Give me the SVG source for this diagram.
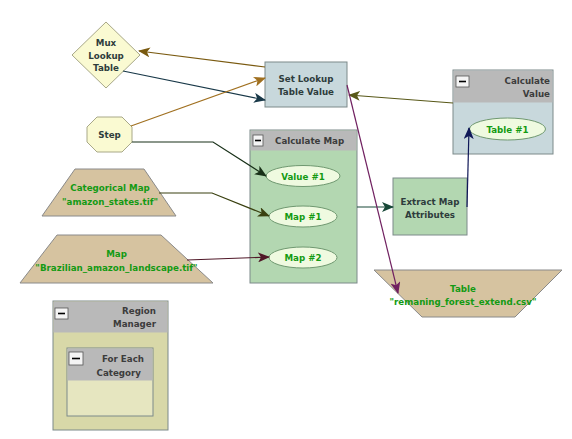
<svg xmlns="http://www.w3.org/2000/svg" width="572" height="439" viewBox="0 0 572 439">
<style>
text{font-family:"DejaVu Sans",Verdana,sans-serif;font-weight:bold;font-size:8.7px}
.n{fill:#2e3c3c}
.g{fill:#139a13}
.h{fill:#3c3c3c}
.box{stroke:#7d8a8a;stroke-width:1}
.hdr{fill:#b9b9b9;stroke:none}
.ell{fill:#effae0;stroke:#6f9870;stroke-width:1}
.trap{fill:#d6c3a0;stroke:#8a8a8a;stroke-width:1}
.btn{fill:#f4f4f4;stroke:#555;stroke-width:0.8}
.line{fill:none;stroke-width:1.2}
</style>
<defs>
<marker id="a1" viewBox="0 0 12 10" refX="11" refY="5" markerWidth="12" markerHeight="10" markerUnits="userSpaceOnUse" orient="auto"><path d="M0,0 L12,5 L0,10 L3,5 z" fill="#7a5a10"/></marker>
<marker id="a2" viewBox="0 0 12 10" refX="11" refY="5" markerWidth="12" markerHeight="10" markerUnits="userSpaceOnUse" orient="auto"><path d="M0,0 L12,5 L0,10 L3,5 z" fill="#183848"/></marker>
<marker id="a3" viewBox="0 0 12 10" refX="11" refY="5" markerWidth="12" markerHeight="10" markerUnits="userSpaceOnUse" orient="auto"><path d="M0,0 L12,5 L0,10 L3,5 z" fill="#a07020"/></marker>
<marker id="a4" viewBox="0 0 12 10" refX="11" refY="5" markerWidth="12" markerHeight="10" markerUnits="userSpaceOnUse" orient="auto"><path d="M0,0 L12,5 L0,10 L3,5 z" fill="#183018"/></marker>
<marker id="a5" viewBox="0 0 12 10" refX="11" refY="5" markerWidth="12" markerHeight="10" markerUnits="userSpaceOnUse" orient="auto"><path d="M0,0 L12,5 L0,10 L3,5 z" fill="#3a4010"/></marker>
<marker id="a6" viewBox="0 0 12 10" refX="11" refY="5" markerWidth="12" markerHeight="10" markerUnits="userSpaceOnUse" orient="auto"><path d="M0,0 L12,5 L0,10 L3,5 z" fill="#501828"/></marker>
<marker id="a7" viewBox="0 0 12 10" refX="11" refY="5" markerWidth="12" markerHeight="10" markerUnits="userSpaceOnUse" orient="auto"><path d="M0,0 L12,5 L0,10 L3,5 z" fill="#184838"/></marker>
<marker id="a8" viewBox="0 0 12 10" refX="11" refY="5" markerWidth="12" markerHeight="10" markerUnits="userSpaceOnUse" orient="auto"><path d="M0,0 L12,5 L0,10 L3,5 z" fill="#101858"/></marker>
<marker id="a9" viewBox="0 0 12 10" refX="11" refY="5" markerWidth="12" markerHeight="10" markerUnits="userSpaceOnUse" orient="auto"><path d="M0,0 L12,5 L0,10 L3,5 z" fill="#585818"/></marker>
<marker id="a10" viewBox="0 0 12 10" refX="11" refY="5" markerWidth="12" markerHeight="10" markerUnits="userSpaceOnUse" orient="auto"><path d="M0,0 L12,5 L0,10 L3,5 z" fill="#702060"/></marker>
</defs>
<rect width="572" height="439" fill="#ffffff"/>

<g id="region-manager">
<rect x="53" y="301" width="115" height="129" fill="#d8d8a8" class="box"/>
<rect x="53.5" y="301.5" width="114" height="31" class="hdr"/>
<rect x="55" y="308" width="13" height="11" class="btn"/><line x1="58" y1="313.5" x2="65" y2="313.5" stroke="#000" stroke-width="1.6"/>
<text x="156" y="314" text-anchor="end" class="h">Region</text>
<text x="156" y="327" text-anchor="end" class="h">Manager</text>
</g>
<g id="for-each-category">
<rect x="67" y="348" width="86" height="68" fill="#e6e6c0" class="box"/>
<rect x="67.5" y="348.5" width="85" height="32" class="hdr"/>
<rect x="69" y="352" width="14" height="13" class="btn"/><line x1="72" y1="358.5" x2="80" y2="358.5" stroke="#000" stroke-width="1.6"/>
<text x="144" y="362" text-anchor="end" class="h">For Each</text>
<text x="141" y="376" text-anchor="end" class="h">Category</text>
</g>

<g id="calculate-map">
<rect x="250" y="130" width="107" height="153" fill="#b3d7b1" class="box"/>
<rect x="250.5" y="130.5" width="106" height="20" class="hdr"/>
<rect x="253" y="135" width="10" height="11" class="btn"/><line x1="255" y1="140.5" x2="261" y2="140.5" stroke="#000" stroke-width="1.6"/>
<text x="275" y="144" class="h">Calculate Map</text>
</g>
<g id="value1"><ellipse cx="303" cy="176" rx="37" ry="10.5" class="ell"/><text x="303" y="179.5" text-anchor="middle" class="g">Value #1</text></g>
<g id="map1"><ellipse cx="303" cy="216.5" rx="34" ry="10.5" class="ell"/><text x="303" y="220" text-anchor="middle" class="g">Map #1</text></g>
<g id="map2"><ellipse cx="303" cy="257.5" rx="34" ry="10.5" class="ell"/><text x="303" y="261" text-anchor="middle" class="g">Map #2</text></g>

<g id="calculate-value">
<rect x="453" y="70" width="100" height="84" fill="#c8d8dc" class="box"/>
<rect x="453.5" y="70.5" width="99" height="32" class="hdr"/>
<rect x="456" y="76" width="13" height="11" class="btn"/><line x1="459" y1="81.5" x2="466" y2="81.5" stroke="#000" stroke-width="1.6"/>
<text x="550" y="84" text-anchor="end" class="h">Calculate</text>
<text x="550" y="97" text-anchor="end" class="h">Value</text>
</g>
<g id="table1"><ellipse cx="507.5" cy="129" rx="38" ry="11" class="ell"/><text x="507.5" y="132.5" text-anchor="middle" class="g">Table #1</text></g>

<g id="mux-lookup-table">
<polygon points="106,22 140,55 106,88 72,55" fill="#fafad2" stroke="#a8a888"/>
<text x="106" y="46" text-anchor="middle" class="n">Mux</text>
<text x="106" y="58.5" text-anchor="middle" class="n">Lookup</text>
<text x="106" y="71" text-anchor="middle" class="n">Table</text>
</g>
<g id="set-lookup-table-value">
<rect x="265" y="62" width="82" height="45" fill="#c8d8dc" class="box"/>
<text x="306" y="82" text-anchor="middle" class="n">Set Lookup</text>
<text x="306" y="94.5" text-anchor="middle" class="n">Table Value</text>
</g>
<g id="step">
<polygon points="97,117 122,117 132,127 132,142 122,152 97,152 87,142 87,127" fill="#fafad2" stroke="#a8a888"/>
<text x="109.5" y="138" text-anchor="middle" class="n">Step</text>
</g>
<g id="extract-map-attributes">
<rect x="393" y="178" width="74" height="57" fill="#b3d7b1" class="box"/>
<text x="430" y="205" text-anchor="middle" class="n">Extract Map</text>
<text x="430" y="217.5" text-anchor="middle" class="n">Attributes</text>
</g>
<g id="categorical-map">
<polygon points="75,169 144,169 176,216 42,216" class="trap"/>
<text x="110" y="191" text-anchor="middle" class="g">Categorical Map</text>
<text x="110" y="205" text-anchor="middle" class="g">"amazon_states.tif"</text>
</g>
<g id="map-brazilian">
<polygon points="57,235 161,235 213,283 20,283" class="trap"/>
<text x="116.5" y="257" text-anchor="middle" class="g">Map</text>
<text x="116.5" y="271" text-anchor="middle" class="g">"Brazilian_amazon_landscape.tif"</text>
</g>
<g id="table-csv">
<polygon points="374,270 562,270 515,317 422,317" class="trap"/>
<text x="463" y="292" text-anchor="middle" class="g">Table</text>
<text x="463" y="305" text-anchor="middle" class="g">"remaning_forest_extend.csv"</text>
</g>

<g id="connectors">
<line x1="265" y1="67" x2="139" y2="51" class="line" stroke="#7a5a10" marker-end="url(#a1)"/>
<line x1="123" y1="71" x2="265" y2="100" class="line" stroke="#183848" marker-end="url(#a2)"/>
<line x1="131" y1="126" x2="265" y2="78" class="line" stroke="#a07020" marker-end="url(#a3)"/>
<polyline points="132,142 213,142 266,176" class="line" stroke="#183018" marker-end="url(#a4)"/>
<polyline points="159,193 212,193 269,216" class="line" stroke="#3a4010" marker-end="url(#a5)"/>
<line x1="187" y1="260" x2="269" y2="257" class="line" stroke="#501828" marker-end="url(#a6)"/>
<line x1="357" y1="207" x2="393" y2="207" class="line" stroke="#184838" marker-end="url(#a7)"/>
<line x1="467" y1="207" x2="469" y2="128" class="line" stroke="#101858" marker-end="url(#a8)"/>
<line x1="453" y1="103" x2="349" y2="95" class="line" stroke="#585818" marker-end="url(#a9)"/>
<line x1="347" y1="85" x2="398" y2="293" class="line" stroke="#702060" marker-end="url(#a10)"/>
</g>
</svg>
